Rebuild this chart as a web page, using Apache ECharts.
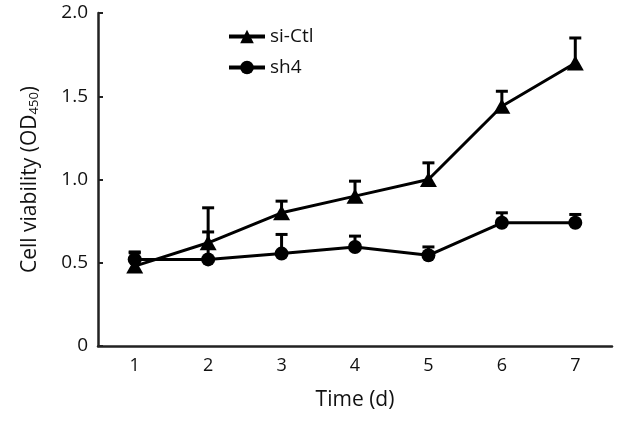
<!DOCTYPE html>
<html>
<head>
<meta charset="utf-8">
<script src="https://cdn.jsdelivr.net/npm/echarts@6/dist/echarts.min.js"></script>
<style>html,body{margin:0;padding:0;background:#fff;}#c{width:622px;height:426px;}</style>
</head>
<body>
<div id="c"></div>
<script>
var days = ['1','2','3','4','5','6','7'];
var siCtl = [0.48, 0.62, 0.80, 0.90, 1.00, 1.44, 1.70];
var siCtlErr = [0.08, 0.21, 0.07, 0.09, 0.10, 0.09, 0.15];
var sh4 = [0.52, 0.52, 0.555, 0.595, 0.545, 0.74, 0.74];
var sh4Err = [0.045, 0.165, 0.115, 0.065, 0.05, 0.06, 0.05];
var yTicks = ['0','0.5','1.0','1.5','2.0'];

var FONT = '"Open Sans", sans-serif';

function errSeries(name, vals, errs) {
  return {
    type: 'custom',
    name: name + '-err',
    z: 1,
    silent: true,
    data: vals.map(function (v, i) { return [i, v, v + errs[i]]; }),
    encode: { x: 0, y: [1, 2] },
    renderItem: function (params, api) {
      var i = api.value(0);
      var p0 = api.coord([i, api.value(1)]);
      var p1 = api.coord([i, api.value(2)]);
      var hw = 6;
      var st = { stroke: '#000', lineWidth: 3 };
      return {
        type: 'group',
        children: [
          { type: 'line', shape: { x1: p0[0], y1: p0[1], x2: p1[0], y2: p1[1] }, style: st },
          { type: 'line', shape: { x1: p1[0] - hw, y1: p1[1], x2: p1[0] + hw, y2: p1[1] }, style: st }
        ]
      };
    }
  };
}

var chart = echarts.init(document.getElementById('c'), null, { renderer: 'canvas' });
chart.setOption({
  animation: false,
  backgroundColor: '#fff',
  textStyle: { fontFamily: FONT },
  grid: { left: 98, right: 10, top: 13, bottom: 80 },
  legend: {
    data: ['si-Ctl', 'sh4'],
    orient: 'vertical',
    left: 222,
    top: 22,
    itemWidth: 36,
    itemHeight: 17,
    itemGap: 12,
    lineStyle: { width: 4 },
    textStyle: { fontSize: 19, color: '#111', fontFamily: FONT }
  },
  xAxis: {
    type: 'category',
    data: days,
    boundaryGap: true,
    name: 'Time (d)',
    nameLocation: 'middle',
    nameGap: 44,
    nameTextStyle: { fontSize: 21, color: '#111', fontFamily: FONT },
    axisLine: { lineStyle: { color: '#222', width: 2.5 } },
    axisTick: { alignWithLabel: true, inside: true, length: 5, lineStyle: { color: '#222', width: 2 } },
    axisLabel: { fontSize: 18, color: '#111', margin: 11, fontFamily: FONT },
    splitLine: { show: false }
  },
  yAxis: {
    type: 'value',
    min: 0,
    max: 2,
    interval: 0.5,
    name: '{n|Cell viability (OD}{s|450}{n|)}',
    nameLocation: 'middle',
    nameRotate: 90,
    nameGap: 57,
    nameTextStyle: {
      rich: {
        n: { fontSize: 21, color: '#111', fontFamily: FONT },
        s: { fontSize: 13, color: '#111', fontFamily: FONT, verticalAlign: 'bottom', padding: [9, 0, 0, 0] }
      }
    },
    axisLine: { show: true, lineStyle: { color: '#222', width: 2.5 } },
    axisTick: { show: true, inside: true, length: 5, lineStyle: { color: '#222', width: 2 } },
    axisLabel: {
      fontSize: 19, color: '#111', margin: 10, fontFamily: FONT,
      formatter: function (v) { return yTicks[Math.round(v / 0.5)]; }
    },
    splitLine: { show: false }
  },
  series: [
    errSeries('si-Ctl', siCtl, siCtlErr),
    errSeries('sh4', sh4, sh4Err),
    {
      type: 'line',
      name: 'si-Ctl',
      data: siCtl,
      z: 3,
      symbol: 'triangle',
      symbolSize: [17, 15],
      itemStyle: { color: '#000' },
      lineStyle: { color: '#000', width: 3 }
    },
    {
      type: 'line',
      name: 'sh4',
      data: sh4,
      z: 3,
      symbol: 'circle',
      symbolSize: 14,
      itemStyle: { color: '#000' },
      lineStyle: { color: '#000', width: 3 }
    }
  ]
});
</script>
</body>
</html>
